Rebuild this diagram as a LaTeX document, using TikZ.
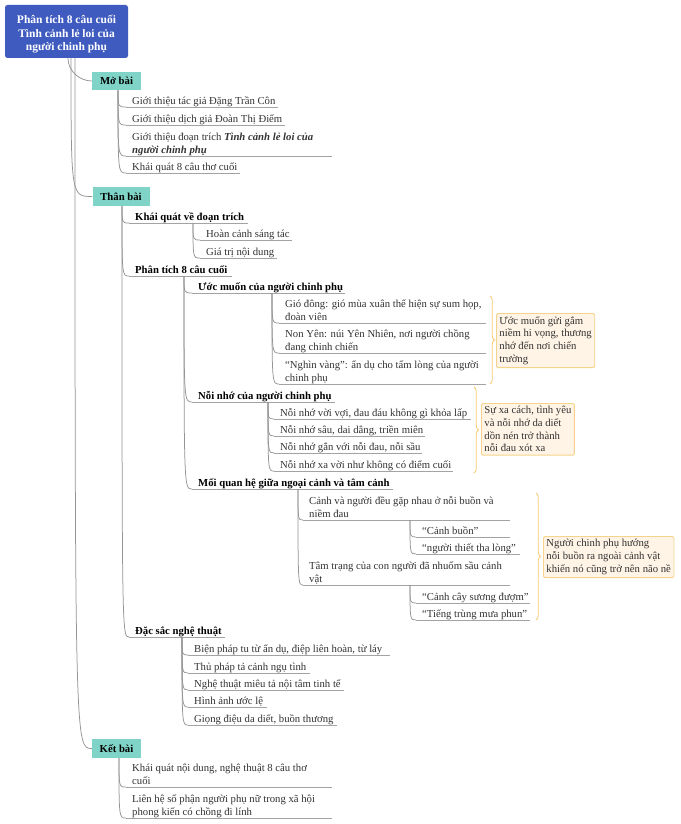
\documentclass[tikz,border=0pt]{standalone}
\usepackage{fontspec}
\setmainfont{Liberation Serif}
\usetikzlibrary{decorations.pathreplacing,calc}
\definecolor{rootblue}{HTML}{3F5BBF}
\definecolor{teal1}{HTML}{7FD4C7}
\definecolor{linegray}{HTML}{949494}
\definecolor{ulgray}{HTML}{A3A3A3}
\definecolor{txt}{HTML}{333333}
\definecolor{bracec}{HTML}{F6CB70}
\definecolor{sumfill}{HTML}{FFF4E6}
\definecolor{sumdraw}{HTML}{F6D28A}
\newcommand\dstrut{\rule[-2.3pt]{0pt}{1pt}}
\tikzset{
  rootbox/.style={rectangle, rounded corners=2.5pt, fill=rootblue, text=white, align=center,
    font=\bfseries\fontsize{11.5}{13.5}\selectfont, minimum width=123pt, minimum height=53pt, inner sep=0pt},
  secbox/.style={rectangle, fill=teal1, font=\bfseries\fontsize{10.7}{13}\selectfont, inner sep=0pt, minimum height=18.5pt},
  uline/.style={draw=ulgray, line width=0.8pt},
  leaf/.style={anchor=south west, inner sep=0pt, align=left, text=txt, font=\fontsize{10.7}{13}\selectfont,
     append after command={([xshift=-6pt]\tikzlastnode.south west) edge[uline] ([xshift=#1]\tikzlastnode.south west)}},
  head/.style={leaf=#1, text=black, font=\bfseries\fontsize{10.7}{13}\selectfont},
  conn/.style={draw=linegray, line width=0.75pt},
  bracesty/.style={draw=bracec, line width=0.8pt, decorate, decoration={brace, amplitude=4.5pt}},
  sumbox/.style={anchor=north west, draw=sumdraw, fill=sumfill, line width=0.9pt, rounded corners=1.5pt,
    align=left, text=txt, font=\fontsize{10.7}{12.7}\selectfont, inner xsep=3pt, inner ysep=3pt},
}
\newcommand\conn[2]{\draw[conn] (#1) .. controls (#1 |- #2.south west) and (#1 |- #2.south west) .. ([xshift=-6pt]#2.south west);}
\newcommand\connbox[2]{\draw[conn] (#1) .. controls (#1 |- #2.west) and (#1 |- #2.west) .. (#2.west);}
\begin{document}
\begin{tikzpicture}[x=1pt,y=-1pt]
\useasboundingbox[fill=white] (0,0) rectangle (680,824);
% root and sections
\node[rootbox] (root) at (66.5,31.5) {\rule{0pt}{14pt}Phân tích 8 câu cuối\\Tình cảnh lẻ loi của\\người chinh phụ};
\node[secbox, minimum width=49pt] (mb) at (116.5,81) {Mở bài};
\node[secbox, minimum width=57pt] (tb) at (121,196.5) {Thân bài};
\node[secbox, minimum width=49pt] (kb) at (116.5,748.5) {Kết bài};
% Mở bài
\node[leaf=146pt] (a1) at (132,107) {Giới thiệu tác giả Đặng Trần Côn\dstrut};
\node[leaf=153pt] (a2) at (132,125) {Giới thiệu dịch giả Đoàn Thị Điểm\dstrut};
\node[leaf=200pt] (a3) at (132,156) {Giới thiệu đoạn trích \textbf{\textit{Tình cảnh lẻ loi của}}\\\textbf{\textit{người chinh phụ}}\dstrut};
\node[leaf=108pt] (a4) at (132,173) {Khái quát 8 câu thơ cuối\dstrut};
% Thân bài
\node[head=113pt] (b1) at (135,223) {Khái quát về đoạn trích\dstrut};
\node[head=97pt] (b2) at (135,276) {Phân tích 8 câu cuối\dstrut};
\node[head=90pt] (b3) at (135,637) {Đặc sắc nghệ thuật\dstrut};
\node[leaf=86pt] (b11) at (206,240) {Hoàn cảnh sáng tác\dstrut};
\node[leaf=71pt] (b12) at (206,258) {Giá trị nội dung\dstrut};
\node[head=147pt] (c1) at (198,293) {Ước muốn của người chinh phụ\dstrut};
\node[head=137pt] (c2) at (198,402) {Nỗi nhớ của người chinh phụ\dstrut};
\node[head=195pt] (c3) at (198,489) {Mối quan hệ giữa ngoại cảnh và tâm cảnh\dstrut};
\node[leaf=201pt] (c11) at (285,323) {Gió đông: gió mùa xuân thể hiện sự sum họp,\\đoàn viên\dstrut};
\node[leaf=201pt] (c12) at (285,353) {Non Yên: núi Yên Nhiên, nơi người chồng\\đang chinh chiến\dstrut};
\node[leaf=201pt] (c13) at (285,384) {“Nghìn vàng”: ẩn dụ cho tấm lòng của người\\chinh phụ\dstrut};
\node[leaf=191pt] (c21) at (280,419) {Nỗi nhớ vời vợi, đau đáu không gì khỏa lấp\dstrut};
\node[leaf=145pt] (c22) at (280,436) {Nỗi nhớ sâu, dai dẳng, triền miên\dstrut};
\node[leaf=142pt] (c23) at (280,453) {Nỗi nhớ gắn với nỗi đau, nỗi sầu\dstrut};
\node[leaf=173pt] (c24) at (280,471) {Nỗi nhớ xa vời như không có điểm cuối\dstrut};
\node[leaf=201pt] (c31) at (309,520) {Cảnh và người đều gặp nhau ở nỗi buồn và\\niềm đau\dstrut};
\node[leaf=201pt] (c32) at (309,585) {Tâm trạng của con người đã nhuốm sầu cảnh\\vật\dstrut};
\node[leaf=88pt] (c311) at (422,537) {“Cảnh buồn”\dstrut};
\node[leaf=98pt] (c312) at (422,554) {“người thiết tha lòng”\dstrut};
\node[leaf=108pt] (c321) at (422,603) {“Cảnh cây sương đượm”\dstrut};
\node[leaf=108pt] (c322) at (422,620) {“Tiếng trùng mưa phun”\dstrut};
\node[leaf=196pt] (d1) at (194,655) {Biện pháp tu từ ẩn dụ, điệp liên hoàn, từ láy\dstrut};
\node[leaf=116pt] (d2) at (194,673) {Thủ pháp tả cảnh ngụ tình\dstrut};
\node[leaf=150pt] (d3) at (194,690) {Nghệ thuật miêu tả nội tâm tinh tế\dstrut};
\node[leaf=73pt] (d4) at (194,707) {Hình ảnh ước lệ\dstrut};
\node[leaf=143pt] (d5) at (194,725) {Giọng điệu da diết, buồn thương\dstrut};
% Kết bài
\node[leaf=200pt] (e1) at (132,787) {Khái quát nội dung, nghệ thuật 8 câu thơ\\cuối\dstrut};
\node[leaf=200pt] (e2) at (132,818) {Liên hệ số phận người phụ nữ trong xã hội\\phong kiến có chồng đi lính\dstrut};
% summaries
\node[sumbox] (s1) at (496,313) {Ước muốn gửi gắm\\niềm hi vọng, thương\\nhớ đến nơi chiến\\trường};
\node[sumbox] (s2) at (481,403) {Sự xa cách, tình yêu\\và nỗi nhớ da diết\\dồn nén trở thành\\nỗi đau xót xa};
\node[sumbox] (s3) at (543,536) {Người chinh phụ hướng\\nỗi buồn ra ngoài cảnh vật\\khiến nó cũng trở nên não nề};
\draw[bracesty] (490,296) -- (490,384);
\draw[bracesty] (474,387) -- (474,473);
\draw[bracesty] (536,493) -- (536,620);
% connector origins
\coordinate (ro1) at ([xshift=1.5pt]root.south);
\coordinate (ro2) at ([xshift=4.5pt]root.south);
\coordinate (ro3) at ([xshift=8.5pt]root.south);
\coordinate (mbo) at ([xshift=1.5pt]mb.south);
\coordinate (tbo) at ([xshift=1pt]tb.south);
\coordinate (kbo) at ([xshift=2.5pt]kb.south);
\coordinate (b1o) at ([xshift=58pt]b1.south west);
\coordinate (b2o) at ([xshift=49pt]b2.south west);
\coordinate (b3o) at ([xshift=47pt]b3.south west);
\coordinate (c1o) at ([xshift=74pt]c1.south west);
\coordinate (c2o) at ([xshift=70pt]c2.south west);
\coordinate (c3o) at ([xshift=100pt]c3.south west);
\coordinate (c31o) at ([xshift=101pt]c31.south west);
\coordinate (c32o) at ([xshift=101pt]c32.south west);
% connectors
\draw[conn] (ro1) .. controls +(0,13) and +(-12,0) .. (mb.west);
\connbox{ro2}{tb}
\connbox{ro3}{kb}
\conn{mbo}{a1}\conn{mbo}{a2}\conn{mbo}{a3}\conn{mbo}{a4}
\conn{tbo}{b1}\conn{tbo}{b2}\conn{tbo}{b3}
\conn{b1o}{b11}\conn{b1o}{b12}
\conn{b2o}{c1}\conn{b2o}{c2}\conn{b2o}{c3}
\conn{c1o}{c11}\conn{c1o}{c12}\conn{c1o}{c13}
\conn{c2o}{c21}\conn{c2o}{c22}\conn{c2o}{c23}\conn{c2o}{c24}
\conn{c3o}{c31}\conn{c3o}{c32}
\conn{c31o}{c311}\conn{c31o}{c312}
\conn{c32o}{c321}\conn{c32o}{c322}
\conn{b3o}{d1}\conn{b3o}{d2}\conn{b3o}{d3}\conn{b3o}{d4}\conn{b3o}{d5}
\conn{kbo}{e1}\conn{kbo}{e2}
\end{tikzpicture}
\end{document}
